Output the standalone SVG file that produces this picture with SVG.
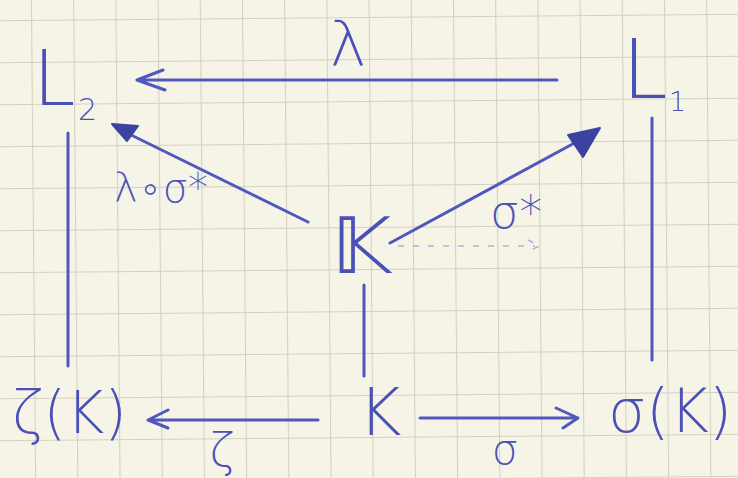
<svg xmlns="http://www.w3.org/2000/svg" width="738" height="478" viewBox="0 0 738 478">
<style>
.t{font-family:"DejaVu Sans","Inter","Liberation Sans",sans-serif;font-weight:200;fill:#4a50b6}
.ln{stroke:#5058c0;stroke-width:3;fill:none;stroke-linecap:round;stroke-linejoin:round}
.hd{fill:#3c429f;stroke:#3c429f;stroke-width:2;stroke-linejoin:round}
</style>
<defs>
<pattern id="grid" width="42.2" height="42" patternUnits="userSpaceOnUse" x="33" y="17" patternTransform="rotate(-0.5 369 239)">
<path d="M0 0H42.2M0 0V42" stroke="#d4d1c0" stroke-width="2.2" fill="none"/>
</pattern>
</defs>
<rect width="738" height="478" fill="#f6f4e7"/>
<rect x="-20" y="-20" width="780" height="520" fill="url(#grid)"/>

<g id="connectors">
<path class="ln" d="M557 80 H137 M163 70 L137 80 L165 90"/>
<path class="ln" d="M68 133 V366"/>
<path class="ln" d="M652 118 V360"/>
<path class="ln" d="M308 222 L125 132" stroke-width="2.5"/>
<path class="hd" d="M112 124 L138 126 L127 141 Z"/>
<path class="ln" d="M390 243 L580 140" stroke-width="2.5"/>
<path class="hd" d="M600 128 L568 135 L583 157 Z"/>
<path d="M398 246 H535 M528 240 L540 246 L528 251" stroke="#aeb0d8" stroke-width="1.6" stroke-dasharray="6 9" fill="none"/>
<path class="ln" d="M364 285 V376"/>
<path class="ln" d="M318 420 H148 M168 410 L148 420 L168 428"/>
<path class="ln" d="M420 418 H578 M556 408 L578 418 L563 428"/>
</g>

<g id="L2"><text class="t" x="33" y="105" font-size="76">L</text><text class="t" x="78" y="120" font-size="30">2</text></g>
<g id="L1"><text class="t" x="622" y="98" font-size="82">L</text><text class="t" x="669" y="111" font-size="27">1</text></g>
<g id="KK"><text class="t" x="332" y="273" font-size="78">𝕂</text></g>
<g id="K"><text class="t" x="380" y="435" font-size="66" text-anchor="middle">K</text></g>
<g id="zetaK"><text class="t" x="12" y="433" font-size="58">ζ(K)</text></g>
<g id="sigmaK"><text class="t" x="608" y="432" font-size="60">σ(K)</text></g>

<g id="labels">
<text class="t" x="348" y="66" font-size="62" text-anchor="middle">λ</text>
<text class="t" x="114" y="202" font-size="40">λ∘σ*</text>
<text class="t" x="490" y="228" font-size="46">σ*</text>
<text class="t" x="222" y="466" font-size="46" text-anchor="middle">ζ</text>
<text class="t" x="505" y="464" font-size="42" text-anchor="middle">σ</text>
</g>
</svg>
